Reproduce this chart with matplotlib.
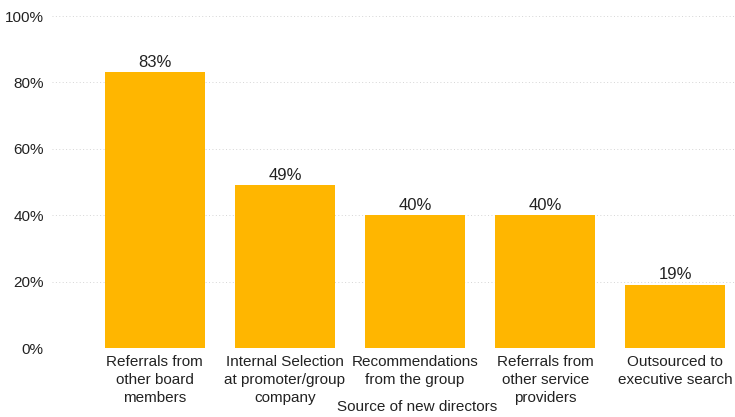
import matplotlib
matplotlib.use("Agg")
import matplotlib.pyplot as plt
from matplotlib.ticker import PercentFormatter

plt.rcParams['font.family'] = ['Liberation Sans', 'DejaVu Sans']

sources = ["Referrals from\nother board\nmembers",
           "Internal Selection\nat promoter/group\ncompany",
           "Recommendations\nfrom the group",
           "Referrals from\nother service\nproviders",
           "Outsourced to\nexecutive search"]
shares = [83, 49, 40, 40, 19]

fig = plt.figure(figsize=(7.35, 4.17), dpi=100)
ax = fig.add_axes([52 / 735, 69 / 417, 730 / 735, 332 / 417])

x = range(len(sources))
bars = ax.bar(x, shares, width=0.77, color="#FFB600", zorder=2)
for b, v in zip(bars, shares):
    ax.text(b.get_x() + b.get_width() / 2, v + 0.8, f"{v}%",
            ha="center", va="bottom", fontsize=12, color="#222222")

ax.set_ylim(0, 100)
ax.set_xlim(-0.79, 4.82)
ax.set_yticks([0, 20, 40, 60, 80, 100])
ax.yaxis.set_major_formatter(PercentFormatter(decimals=0))
ax.set_xticks(list(x))
ax.set_xticklabels(sources, fontsize=11, color="#222222", linespacing=1.35)
ax.tick_params(axis="y", labelsize=11, labelcolor="#222222", length=0, pad=6)
ax.tick_params(axis="x", length=0, pad=5)
ax.grid(axis="y", linestyle=(0, (1, 2.5)), color="#d5d5d5", linewidth=0.7, zorder=0)
for s in ax.spines.values():
    s.set_visible(False)
ax.set_xlabel("Source of new directors", fontsize=11, color="#222222", labelpad=-3)

fig.savefig("out.png", dpi=100)
